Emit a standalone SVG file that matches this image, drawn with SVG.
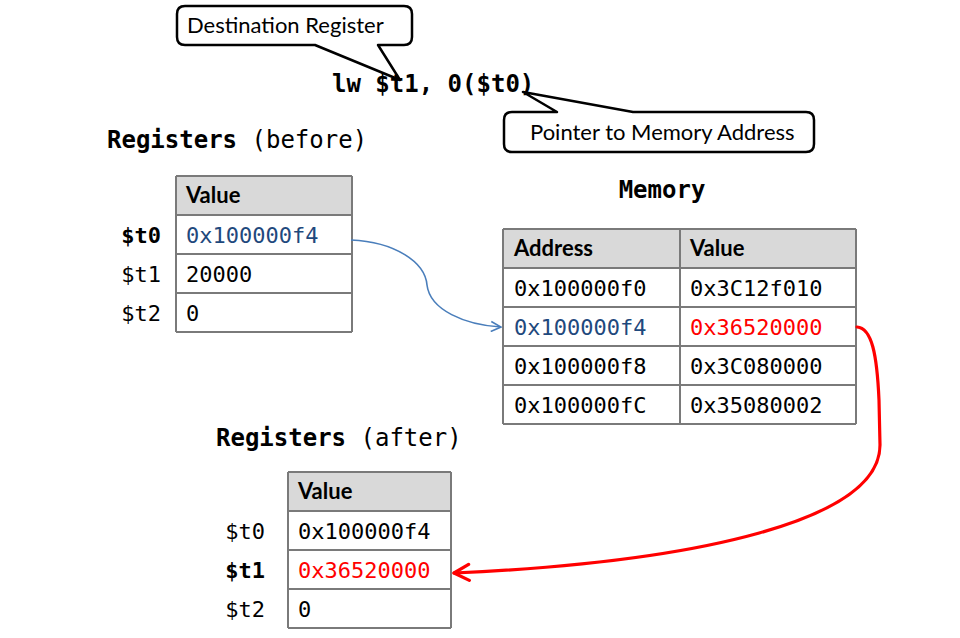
<svg xmlns="http://www.w3.org/2000/svg" width="960" height="638" viewBox="0 0 960 638">
<defs>
<style>
.mono{font-family:"DejaVu Sans Mono","Liberation Mono",monospace;font-size:22px;fill:#000}
.big{font-family:"DejaVu Sans Mono","Liberation Mono",monospace;font-size:24px;fill:#000}
.b{font-weight:bold}
.hdr{font-family:Lato,"Liberation Sans",sans-serif;font-weight:bold;font-size:22px;fill:#000}
.call{font-family:Lato,"Liberation Sans",sans-serif;font-size:22px;fill:#000}
.blue{fill:#1f497d}
.red{fill:#ff0000}
.head{fill:#d9d9d9;stroke:none}
.grid{stroke:#7a7a7a;stroke-width:2;fill:none}
.bubble{fill:#fff;stroke:#000;stroke-width:2.5;stroke-linejoin:round}
</style>
<marker id="arrBlue" viewBox="0 0 12 12" refX="11" refY="6" markerWidth="12" markerHeight="12" markerUnits="userSpaceOnUse" orient="auto">
<path d="M1,1 L11,6 L1,11" fill="none" stroke="#4a7ebb" stroke-width="1.6"/>
</marker>
<marker id="arrRed" viewBox="0 0 20 20" refX="18" refY="10" markerWidth="20" markerHeight="20" markerUnits="userSpaceOnUse" orient="auto">
<path d="M3,2 L18,10 L3,18" fill="none" stroke="#ff0000" stroke-width="3.2" stroke-linecap="round" stroke-linejoin="round"/>
</marker>
</defs>
<rect width="960" height="638" fill="#fff"/>

<g id="callout-destination">
<path class="bubble" d="M185,6 H404 Q412,6 412,14 V37 Q412,45 404,45 H378 L400,80 L315,45 H185 Q177,45 177,37 V14 Q177,6 185,6 Z"/>
<text class="call" x="187" y="33">Destination Register</text>
</g>

<g id="instruction">
<text class="big b" x="332" y="92">lw $t1, 0($t0)</text>
</g>

<g id="callout-pointer">
<path class="bubble" d="M512,112 H557 L523,92 L633,112 H806 Q814,112 814,120 V144 Q814,152 806,152 H512 Q504,152 504,144 V120 Q504,112 512,112 Z"/>
<text class="call" x="530" y="140">Pointer to Memory Address</text>
</g>

<g id="registers-before">
<text class="big" x="107" y="148"><tspan class="b">Registers</tspan> (before)</text>
<rect class="head" x="176" y="176" width="176" height="39"/>
<path class="grid" d="M176,176 V332 M352,176 V332 M176,176 H352 M176,215 H352 M176,254 H352 M176,293 H352 M176,332 H352"/>
<text class="hdr" x="186" y="203">Value</text>
<text class="mono b" x="161" y="243" text-anchor="end">$t0</text>
<text class="mono" x="161" y="282" text-anchor="end">$t1</text>
<text class="mono" x="161" y="321" text-anchor="end">$t2</text>
<text class="mono blue" x="186" y="243">0x100000f4</text>
<text class="mono" x="186" y="282">20000</text>
<text class="mono" x="186" y="321">0</text>
</g>

<g id="memory">
<text class="big b" x="662" y="198" text-anchor="middle">Memory</text>
<rect class="head" x="503" y="229" width="353" height="39"/>
<path class="grid" d="M503,229 V424 M680,229 V424 M856,229 V424 M503,229 H856 M503,268 H856 M503,307 H856 M503,346 H856 M503,385 H856 M503,424 H856"/>
<text class="hdr" x="514" y="256">Address</text>
<text class="hdr" x="690" y="256">Value</text>
<text class="mono" x="514" y="296">0x100000f0</text>
<text class="mono" x="690" y="296">0x3C12f010</text>
<text class="mono blue" x="514" y="335">0x100000f4</text>
<text class="mono red" x="690" y="335">0x36520000</text>
<text class="mono" x="514" y="374">0x100000f8</text>
<text class="mono" x="690" y="374">0x3C080000</text>
<text class="mono" x="514" y="413">0x100000fC</text>
<text class="mono" x="690" y="413">0x35080002</text>
</g>

<g id="registers-after">
<text class="big" x="216" y="446"><tspan class="b">Registers</tspan> (after)</text>
<rect class="head" x="288" y="472" width="163" height="39"/>
<path class="grid" d="M288,472 V628 M451,472 V628 M288,472 H451 M288,511 H451 M288,550 H451 M288,589 H451 M288,628 H451"/>
<text class="hdr" x="298" y="499">Value</text>
<text class="mono" x="265" y="539" text-anchor="end">$t0</text>
<text class="mono b" x="265" y="578" text-anchor="end">$t1</text>
<text class="mono" x="265" y="617" text-anchor="end">$t2</text>
<text class="mono" x="298" y="539">0x100000f4</text>
<text class="mono red" x="298" y="578">0x36520000</text>
<text class="mono" x="298" y="617">0</text>
</g>

<g id="connectors">
<path d="M351,240 C395,242 425,262 427,285 C430,310 465,325 501,327" fill="none" stroke="#4a7ebb" stroke-width="1.6" marker-end="url(#arrBlue)"/>
<path d="M857,327 C872,328 877,355 879,400 L880,445 C880,520 700,562 454,573" fill="none" stroke="#ff0000" stroke-width="3.2" stroke-linecap="round" marker-end="url(#arrRed)"/>
</g>
</svg>
